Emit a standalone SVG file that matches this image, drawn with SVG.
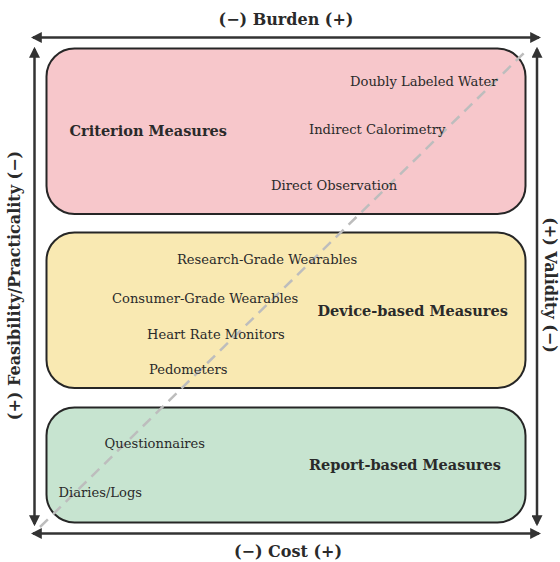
<svg xmlns="http://www.w3.org/2000/svg" width="560" height="562" viewBox="0 0 560 562">
<style>
.box{stroke:#262626;stroke-width:2}
.lbl{font-family:"DejaVu Serif","Liberation Serif",serif;font-size:13.1px;fill:#2a2a2a}
.ttl{font-family:"DejaVu Serif","Liberation Serif",serif;font-size:14.5px;font-weight:bold;fill:#2a2a2a}
.axis{font-family:"DejaVu Serif","Liberation Serif",serif;font-size:16px;font-weight:bold;fill:#2a2a2a}
.ax{stroke:#333;stroke-width:2.5;fill:none;marker-start:url(#ah);marker-end:url(#ah)}
.diag{stroke:#bdbdbd;stroke-width:2.5;stroke-dasharray:11 7;fill:none}
</style>
<defs>
<marker id="ah" viewBox="0 0 10 10" refX="8" refY="5" markerWidth="4.4" markerHeight="4.4" orient="auto-start-reverse" markerUnits="strokeWidth">
<path d="M0,0 L10,5 L0,10 Z" fill="#333"/>
</marker>
</defs>
<rect width="560" height="562" fill="#ffffff"/>
<g id="criterion">
<rect class="box" x="46.5" y="48.5" width="479" height="165.5" rx="28" fill="#f7c7cb"/>
</g>
<g id="device">
<rect class="box" x="46.5" y="232.5" width="479" height="155.5" rx="28" fill="#f9e9b2"/>
</g>
<g id="report">
<rect class="box" x="46.5" y="407.5" width="479" height="115" rx="28" fill="#c7e4d0"/>
</g>
<g id="connectors">
<line class="diag" x1="40" y1="527" x2="527" y2="50"/>
<line class="ax" x1="33" y1="37.5" x2="539" y2="37.5"/>
<line class="ax" x1="33" y1="533.5" x2="539" y2="533.5"/>
<line class="ax" x1="34.5" y1="49" x2="34.5" y2="524"/>
<line class="ax" x1="537" y1="49" x2="537" y2="524"/>
</g>
<g id="criterion-text">
<text class="ttl" x="69.5" y="136">Criterion Measures</text>
<text class="lbl" x="350" y="85.5">Doubly Labeled Water</text>
<text class="lbl" x="309" y="133.5">Indirect Calorimetry</text>
<text class="lbl" x="271" y="189.5">Direct Observation</text>
</g>
<g id="device-text">
<text class="lbl" x="177" y="264">Research-Grade Wearables</text>
<text class="lbl" x="112" y="303">Consumer-Grade Wearables</text>
<text class="ttl" x="317.5" y="315.5">Device-based Measures</text>
<text class="lbl" x="147" y="339">Heart Rate Monitors</text>
<text class="lbl" x="149" y="374">Pedometers</text>
</g>
<g id="report-text">
<text class="lbl" x="104.5" y="447.5">Questionnaires</text>
<text class="ttl" x="309" y="470">Report-based Measures</text>
<text class="lbl" x="58.5" y="496.5">Diaries/Logs</text>
</g>
<g id="axis-labels">
<text class="axis" x="286" y="25" text-anchor="middle">(−) Burden (+)</text>
<text class="axis" x="288" y="557" text-anchor="middle">(−) Cost (+)</text>
<text class="axis" transform="translate(20,285.5) rotate(-90)" text-anchor="middle">(+) Feasibility/Practicality (−)</text>
<text class="axis" transform="translate(545,285) rotate(90)" text-anchor="middle">(+) Validity (−)</text>
</g>
</svg>
